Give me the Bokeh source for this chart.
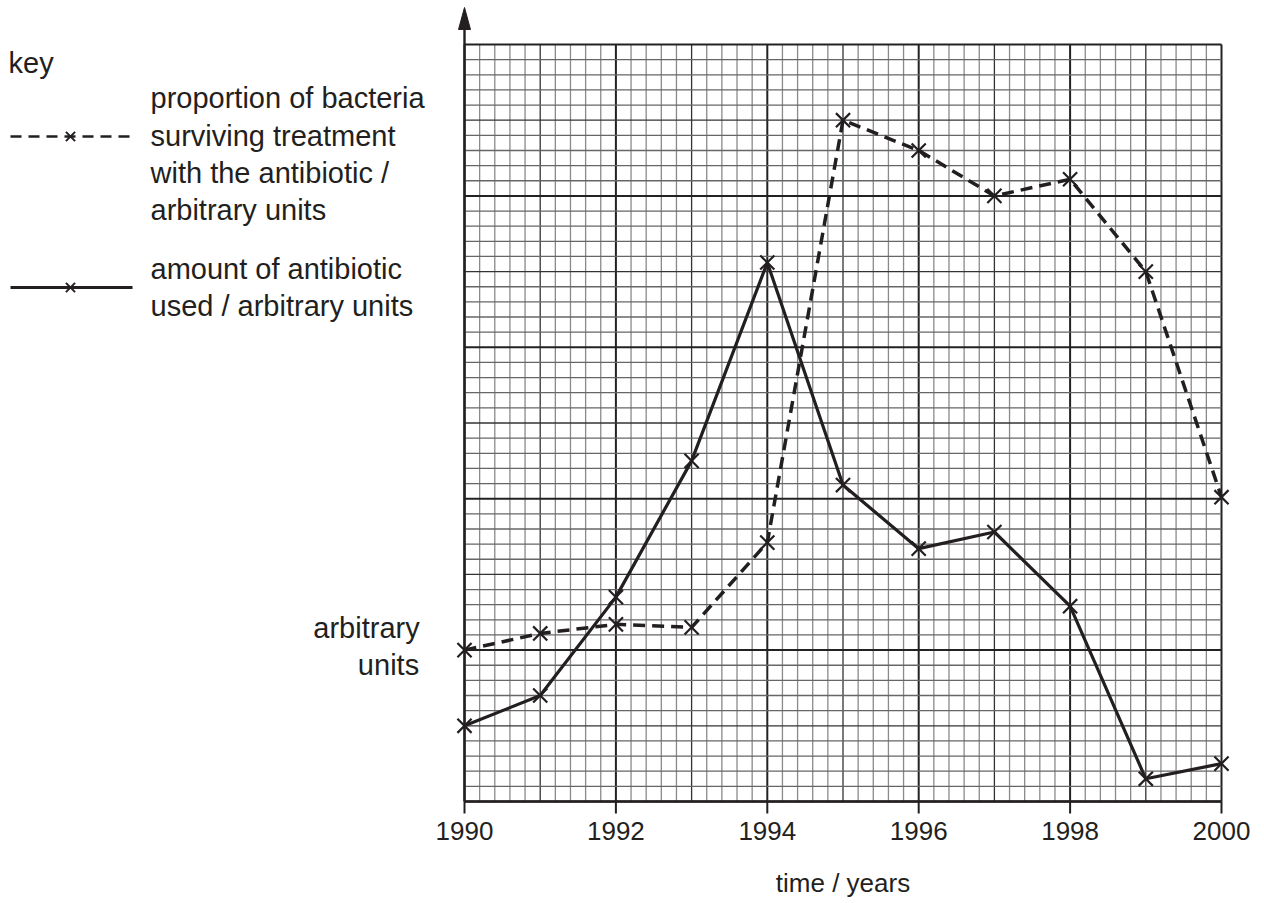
import numpy as np
from bokeh.plotting import figure
from bokeh.models import Range1d
from bokeh.core.properties import value
from bokeh.embed import file_html
from bokeh.resources import INLINE

# ---- data ----
years = [1990, 1991, 1992, 1993, 1994, 1995, 1996, 1997, 1998, 1999, 2000]
surviving = [10.0, 11.1, 11.7, 11.5, 17.1, 45.0, 43.0, 40.0, 41.1, 35.0, 20.1]
antibiotic = [5.0, 7.0, 13.5, 22.5, 35.6, 20.9, 16.7, 17.8, 12.9, 1.5, 2.5]
tick_years = [1990, 1992, 1994, 1996, 1998, 2000]
tick_labels = ["1990", "1992", "1994", "1996", "1998", "2000"]
x_label = "time / years"
y_label_lines = ["arbitrary", "units"]
key_title = "key"
key_surviving = ["proportion of bacteria", "surviving treatment",
                 "with the antibiotic /", "arbitrary units"]
key_antibiotic = ["amount of antibiotic", "used / arbitrary units"]

# ---- layout (pixel mapping) ----
W, H = 1256, 900
PX_YEAR = 75.7     # pixels per year
PX_UNIT = 15.14    # pixels per arbitrary unit
X_ORIGIN = 464     # page x of 1990
Y_ORIGIN = 801     # page y of 0
Y_TOP = 50

def X(px):
    return years[0] + (px - X_ORIGIN) / PX_YEAR

def Y(py):
    return (Y_ORIGIN - py) / PX_UNIT

INK = "#231f20"
FONT = value("Liberation Sans")
TXT = "29px"

p = figure(width=W, height=H, output_backend="svg", toolbar_location=None,
           x_range=Range1d(X(0), X(W)), y_range=Range1d(Y(H), Y(0)),
           x_axis_location=None, y_axis_location=None,
           min_border_left=0, min_border_right=0,
           min_border_top=0, min_border_bottom=0)
p.outline_line_color = None
p.xgrid.visible = False
p.ygrid.visible = False
p.background_fill_color = "white"
p.border_fill_color = "white"

# ---- graph paper ----
x0, x1 = years[0], years[-1]
xs_grid = np.linspace(x0, x1, 51)
ys_grid = np.linspace(0, Y_TOP, 51)
for i, gx in enumerate(xs_grid):
    if i % 10 == 0:
        col, lw = "#222222", 2.0
    elif i % 5 == 0:
        col, lw = "#333333", 1.3
    else:
        col, lw = "#8a8a8a", 1.3
    p.segment(x0=[gx], y0=[0], x1=[gx], y1=[Y_TOP], line_color=col, line_width=lw)
for i, gy in enumerate(ys_grid):
    if i % 10 == 0:
        col, lw = "#222222", 2.0
    elif i % 5 == 0:
        col, lw = "#333333", 1.3
    else:
        col, lw = "#666666", 1.3
    p.segment(x0=[x0], y0=[gy], x1=[x1], y1=[gy], line_color=col, line_width=lw)

# ---- axes ----
# x axis line, ticks and labels
p.segment(x0=[x0], y0=[0], x1=[x1], y1=[0], line_color=INK, line_width=2.4)
p.segment(x0=tick_years, y0=[0] * len(tick_years), x1=tick_years,
          y1=[Y(813)] * len(tick_years), line_color=INK, line_width=2)
p.text(x=tick_years, y=[Y(830)] * len(tick_years), text=tick_labels,
       text_font=FONT, text_font_size="26px", text_color=INK,
       text_align="center", text_baseline="middle")
p.text(x=[(x0 + x1) / 2], y=[Y(882)], text=[x_label],
       text_font=FONT, text_font_size="26px", text_color=INK,
       text_align="center", text_baseline="middle")

# y axis with arrow
p.segment(x0=[x0], y0=[0], x1=[x0], y1=[Y(28)], line_color=INK, line_width=2.4)
p.patch(x=[x0 - 6 / PX_YEAR, x0, x0 + 6 / PX_YEAR],
        y=[Y(29), Y(7), Y(29)], fill_color=INK, line_color=INK)

# ---- data lines ----
p.line(years, surviving, line_color=INK, line_width=3.5, line_dash="12 7")
p.scatter(years, surviving, marker="x", size=20, line_color=INK, line_width=2.2)
p.line(years, antibiotic, line_color=INK, line_width=3.2)
p.scatter(years, antibiotic, marker="x", size=20, line_color=INK, line_width=2.2)

# ---- y label ----
p.text(x=[X(366), X(388)], y=[Y(627), Y(664)], text=y_label_lines,
       text_font=FONT, text_font_size=TXT, text_color=INK,
       text_align="center", text_baseline="middle")

# ---- key ----
p.text(x=[X(8)], y=[Y(62)], text=[key_title], text_font=FONT,
       text_font_size=TXT, text_color=INK, text_align="left", text_baseline="middle")
p.text(x=[X(150)] * 4, y=[Y(97), Y(135), Y(172), Y(209)], text=key_surviving,
       text_font=FONT, text_font_size=TXT, text_color=INK,
       text_align="left", text_baseline="middle")
p.text(x=[X(150)] * 2, y=[Y(268), Y(305)], text=key_antibiotic,
       text_font=FONT, text_font_size=TXT, text_color=INK,
       text_align="left", text_baseline="middle")

p.segment(x0=[X(10)], y0=[Y(136)], x1=[X(132)], y1=[Y(136)],
          line_color=INK, line_width=2.5, line_dash="11 7")
p.scatter([X(70)], [Y(136)], marker="x", size=13, line_color=INK, line_width=2)
p.segment(x0=[X(10)], y0=[Y(287)], x1=[X(132)], y1=[Y(287)],
          line_color=INK, line_width=3)
p.scatter([X(70)], [Y(287)], marker="x", size=13, line_color=INK, line_width=2)

open("out.html", "w").write(file_html(p, INLINE))
